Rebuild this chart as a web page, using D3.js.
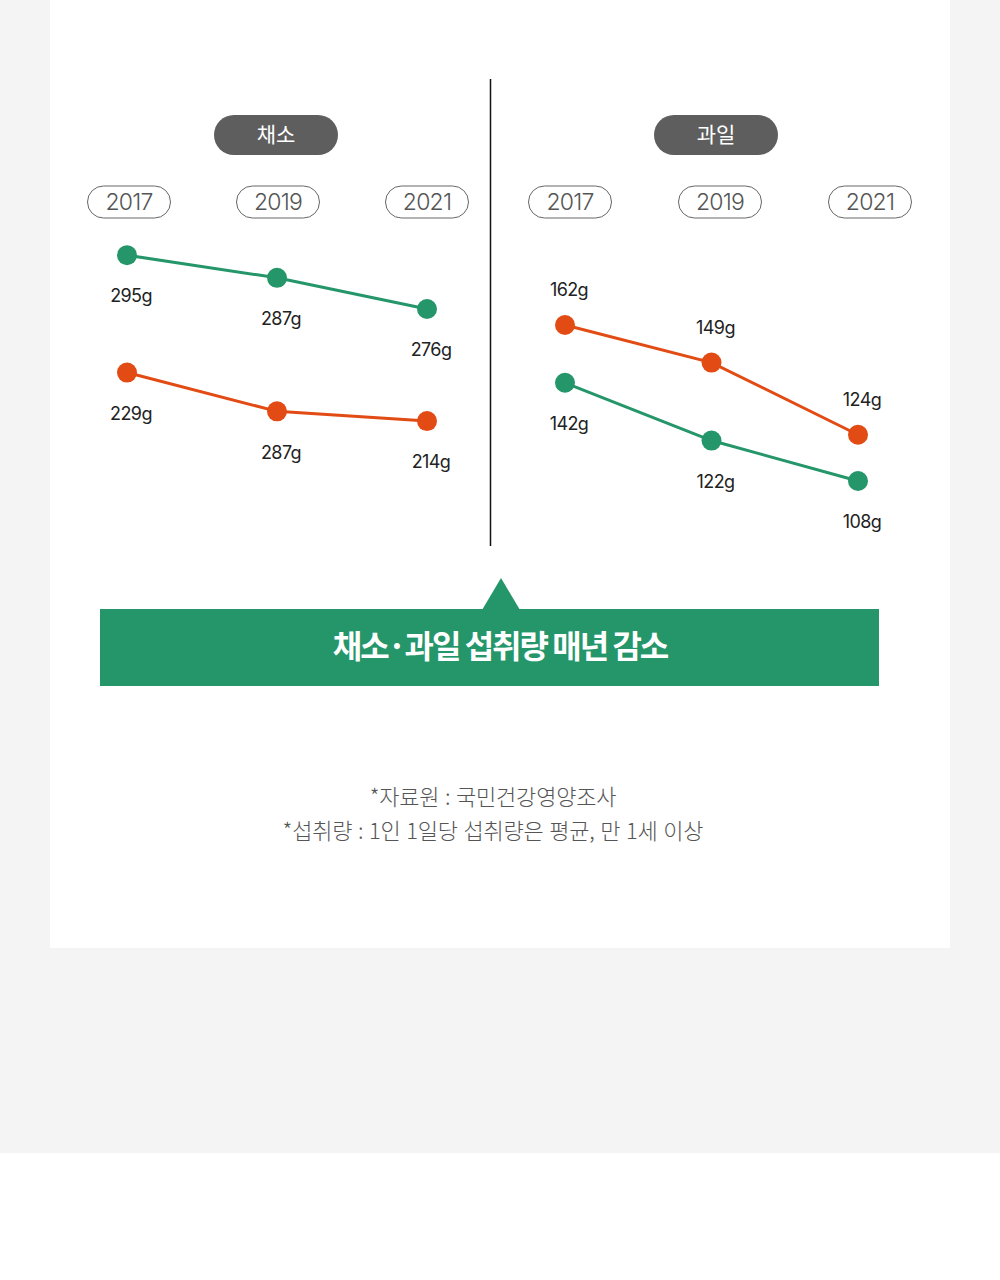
<!DOCTYPE html>
<html>
<head>
<meta charset="utf-8">
<script src="https://cdn.jsdelivr.net/npm/d3@7"></script>
<style>
  html, body { margin: 0; padding: 0; background: #fff; }
  svg { display: block; }
  text { font-family: "Noto Sans CJK KR", "Noto Sans", sans-serif; }
  .num { font-family: Inter, "Noto Sans CJK KR", sans-serif; }
</style>
</head>
<body>
<svg id="chart" width="1000" height="1280"></svg>
<script>
// data
var years = ["2017", "2019", "2021"];
var panelNames = ["채소", "과일"];
var seriesKeys = ["green", "orange"];

// vegetables (채소) panel
var vegGreen = [295, 287, 276];
var vegOrange = [229, 217, 214];
var vegGreenLabels = ["295g", "287g", "276g"];
var vegOrangeLabels = ["229g", "287g", "214g"];   // printed as in the source

// fruit (과일) panel
var fruitOrange = [162, 149, 124];
var fruitGreen = [142, 122, 108];
var fruitOrangeLabels = ["162g", "149g", "124g"];
var fruitGreenLabels = ["142g", "122g", "108g"];

var bannerText = "채소·과일 섭취량 매년 감소";
var notes = ["*자료원 : 국민건강영양조사", "*섭취량 : 1인 1일당 섭취량은 평균, 만 1세 이상"];

var color = d3.scaleOrdinal().domain(seriesKeys).range(["#24966a", "#e24b14"]);

var svg = d3.select("#chart");

// page background + card
svg.append("rect").attr("width", 1000).attr("height", 1153).attr("fill", "#f4f4f4");
svg.append("rect").attr("x", 50).attr("y", 0).attr("width", 900).attr("height", 948).attr("fill", "#fff");

// panel layout
var panels = [
  {
    name: panelNames[0], cx: 276,
    x: d3.scalePoint().domain(years).range([127, 427]),
    pill: d3.scalePoint().domain(years).range([129, 427]),
    // broken axis: upper segment for green, lower for orange
    y: d3.scaleLinear().domain([300, 270, 240, 210]).range([241, 326, 337, 434]),
    series: [
      {key: "green", values: vegGreen, labels: vegGreenLabels, above: false},
      {key: "orange", values: vegOrange, labels: vegOrangeLabels, above: false}
    ]
  },
  {
    name: panelNames[1], cx: 716,
    x: d3.scalePoint().domain(years).range([565, 858]),
    pill: d3.scalePoint().domain(years).range([570, 870]),
    y: d3.scaleLinear().domain([162, 108]).range([325, 481]),
    series: [
      {key: "orange", values: fruitOrange, labels: fruitOrangeLabels, above: true},
      {key: "green", values: fruitGreen, labels: fruitGreenLabels, above: false}
    ]
  }
];

// divider
svg.append("line")
  .attr("x1", 490.5).attr("x2", 490.5)
  .attr("y1", 79).attr("y2", 546)
  .attr("stroke", "#111").attr("stroke-width", 1.5);

panels.forEach(function(p) {
  var g = svg.append("g");

  // title pill
  g.append("rect")
    .attr("x", p.cx - 62).attr("y", 115)
    .attr("width", 124).attr("height", 40)
    .attr("rx", 20)
    .attr("fill", "#5e5e5e");
  g.append("text")
    .attr("x", p.cx).attr("y", 135)
    .attr("dy", "0.35em")
    .attr("text-anchor", "middle")
    .attr("fill", "#fff")
    .attr("font-size", 21)
    .attr("font-weight", 400)
    .text(p.name);

  // year pills
  var yp = g.selectAll(".year")
    .data(years)
    .enter().append("g")
    .attr("class", "year")
    .attr("transform", function(d) { return "translate(" + p.pill(d) + ",202)"; });
  yp.append("rect")
    .attr("x", -41.5).attr("y", -16)
    .attr("width", 83).attr("height", 32)
    .attr("rx", 16)
    .attr("fill", "#fff")
    .attr("stroke", "#666")
    .attr("stroke-width", 1);
  yp.append("text")
    .attr("class", "num")
    .attr("text-anchor", "middle")
    .attr("dy", "0.36em")
    .attr("fill", "#555")
    .attr("font-size", 23)
    .attr("font-weight", 300)
    .attr("letter-spacing", -0.8)
    .text(function(d) { return d; });

  var line = d3.line()
    .x(function(d, i) { return p.x(years[i]); })
    .y(function(d) { return p.y(d); });

  p.series.forEach(function(s) {
    g.append("path")
      .datum(s.values)
      .attr("d", line)
      .attr("fill", "none")
      .attr("stroke", color(s.key))
      .attr("stroke-width", 3);

    g.selectAll(".dot-" + s.key)
      .data(s.values)
      .enter().append("circle")
      .attr("class", "dot-" + s.key)
      .attr("cx", function(d, i) { return p.x(years[i]); })
      .attr("cy", function(d) { return p.y(d); })
      .attr("r", 10)
      .attr("fill", color(s.key));

    g.selectAll(".lbl-" + s.key)
      .data(s.values)
      .enter().append("text")
      .attr("class", "num lbl-" + s.key)
      .attr("x", function(d, i) { return p.x(years[i]) + 4; })
      .attr("y", function(d) { return p.y(d) + (s.above ? -35 : 41); })
      .attr("dy", "0.35em")
      .attr("text-anchor", "middle")
      .attr("fill", "#222")
      .attr("font-size", 18)
      .attr("letter-spacing", -0.6)
      .text(function(d, i) { return s.labels[i]; });
  });
});

// banner
svg.append("path")
  .attr("d", "M482,610 L501,578 L520,610 Z")
  .attr("fill", "#24966a");
svg.append("rect")
  .attr("x", 100).attr("y", 609)
  .attr("width", 779).attr("height", 77)
  .attr("fill", "#24966a");
svg.append("text")
  .attr("x", 500).attr("y", 647)
  .attr("dy", "0.35em")
  .attr("text-anchor", "middle")
  .attr("fill", "#fff")
  .attr("font-size", 32)
  .attr("font-weight", 700)
  .attr("letter-spacing", -2)
  .text(bannerText);

// footnotes
svg.selectAll(".note")
  .data(notes)
  .enter().append("text")
  .attr("class", "note")
  .attr("x", 493)
  .attr("y", function(d, i) { return 797 + i * 34; })
  .attr("dy", "0.35em")
  .attr("text-anchor", "middle")
  .attr("fill", "#555")
  .attr("font-size", 22)
  .attr("font-weight", 300)
  .attr("letter-spacing", -0.2)
  .attr("word-spacing", 1)
  .text(function(d) { return d; });
</script>
</body>
</html>
